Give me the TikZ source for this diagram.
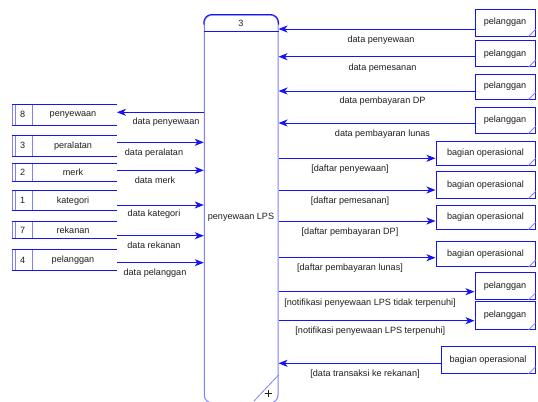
\documentclass[tikz,border=0pt]{standalone}
\usepackage{fontspec}
\setmainfont{Liberation Sans}
\usetikzlibrary{arrows.meta}
\definecolor{ln}{RGB}{20,20,245}
\definecolor{lt}{RGB}{128,128,255}
\definecolor{tx}{RGB}{30,30,30}
\tikzset{
  every node/.style={font=\fontsize{9.1bp}{11bp}\selectfont, text=tx},
  flow/.style={draw=ln, line width=1bp, -{Stealth[length=9bp,width=7bp,inset=2.5bp]}},
  proc/.style={draw=lt, line width=1bp, rounded corners=8bp, inner sep=0pt},
  entity/.style={draw=ln, line width=1bp, fill=white, inner sep=0pt},
  storebox/.style={inner sep=0pt},
  lbl/.style={inner sep=0pt}
}
\begin{document}
\begin{tikzpicture}[x=1bp, y=-1bp]
\useasboundingbox[fill=white] (0,0) rectangle (538,401);

% process
\node[proc, minimum width=73.7bp, minimum height=388bp] (p) at (241.15,209) {};
\draw[ln, line width=1bp, rounded corners=8bp] ([yshift=-10bp]p.north west) -- (p.north west) -- (p.north east) -- ([yshift=-10bp]p.north east);
\draw[ln, line width=1bp] (p.west |- 0,31.5) coordinate (hl) -- (p.east |- 0,31.5) coordinate (hr);
\node (pid) at (241,23) {3};
\node (pname) at (241,217.7) {penyewaan LPS};
\coordinate (dg1) at (p.east |- 0,375);
\coordinate (dg2) at (254,401);
\draw[lt, line width=0.8bp] (dg1) -- (dg2);
\coordinate (plus) at (268,393);
\draw[tx, line width=0.6bp] ([xshift=-3.5bp]plus) -- ([xshift=3.5bp]plus) ([yshift=-3.5bp]plus) -- ([yshift=3.5bp]plus);

% data stores
\foreach \id/\txt/\t/\b in {8/penyewaan/104.3/125, 3/peralatan/135.7/156, 2/merk/163.3/181.7, 1/kategori/190.7/210.7, 7/rekanan/221.7/238.3, 4/pelanggan/250/270}{
  \node[storebox, minimum width=104.4bp, minimum height={(\b-\t)*1bp}] (s\id) at (64.5,{(\t+\b)/2}) {};
  \draw[lt, line width=1bp] (s\id.north west) -- (s\id.south west)
     ([xshift=3.4bp]s\id.north west) -- ([xshift=3.4bp]s\id.south west)
     ([xshift=20bp]s\id.north west) -- ([xshift=20bp]s\id.south west);
  \draw[ln, line width=1bp] (s\id.north west) -- (s\id.north east) (s\id.south west) -- (s\id.south east);
  \node (n\id) at (22.6,{(\t+\b)/2}) {\id};
  \node (t\id) at (73,{(\t+\b)/2}) {\txt};
}

% left flows
\draw[flow] (p.west |- 0,112.3) -- (s8.east |- 0,112.3);
\draw[flow] (s3.east |- 0,142.3) -- (p.west |- 0,142.3);
\draw[flow] (s2.east |- 0,170.3) -- (p.west |- 0,170.3);
\draw[flow] (s1.east |- 0,205) -- (p.west |- 0,205);
\draw[flow] (s7.east |- 0,235.7) -- (p.west |- 0,235.7);
\draw[flow] (s4.east |- 0,262.7) -- (p.west |- 0,262.7);
\node[lbl] (l8) at (166,122.3) {data penyewaan};
\node[lbl] (l3) at (154,153.3) {data peralatan};
\node[lbl] (l2) at (155,180.7) {data merk};
\node[lbl] (l1) at (154,214.3) {data kategori};
\node[lbl] (l7) at (154,245) {data rekanan};
\node[lbl] (l4) at (155,273.3) {data pelanggan};

% external entities
\foreach \id/\cx/\w/\t/\b/\txt in {e1/505/60/9/36/pelanggan, e2/505/60/40.7/66.7/pelanggan, e3/505/60/74/99/pelanggan, e4/505/60/107/133/pelanggan, b1/485.5/99/141/165/bagian operasional, b2/485.5/99/171.7/198/bagian operasional, b3/485.5/99/205/229/bagian operasional, b4/485.5/99/241/266.7/bagian operasional, e5/505/60/272.7/299.3/pelanggan, e6/505/60/301.7/329.3/pelanggan, b5/488/94/346.7/373.3/bagian operasional}{
  \node[entity, minimum width={\w*1bp}, minimum height={(\b-\t)*1bp}] (\id) at (\cx,{(\t+\b)/2}) {\txt};
  \draw[lt, line width=0.8bp] ([yshift=7bp]\id.south east) -- ([xshift=-7bp]\id.south east);
}

% right flows
\draw[flow] (e1.west |- 0,29) -- (p.east |- 0,29);
\draw[flow] (e2.west |- 0,56.7) -- (p.east |- 0,56.7);
\draw[flow] (e3.west |- 0,91) -- (p.east |- 0,91);
\draw[flow] (e4.west |- 0,123) -- (p.east |- 0,123);
\draw[flow] (p.east |- 0,158.3) -- (b1.west |- 0,158.3);
\draw[flow] (p.east |- 0,190) -- (b2.west |- 0,190);
\draw[flow] (p.east |- 0,221) -- (b3.west |- 0,221);
\draw[flow] (p.east |- 0,257.7) -- (b4.west |- 0,257.7);
\draw[flow] (p.east |- 0,291.7) -- (e5.west |- 0,291.7);
\draw[flow] (p.east |- 0,320.7) -- (e6.west |- 0,320.7);
\draw[flow] (b5.west |- 0,363.3) -- (p.east |- 0,363.3);

\node[lbl] (r1) at (381,40) {data penyewaan};
\node[lbl] (r2) at (382.5,67.7) {data pemesanan};
\node[lbl] (r3) at (382.5,101) {data pembayaran DP};
\node[lbl] (r4) at (382.5,134) {data pembayaran lunas};
\node[lbl] (r5) at (350,169.3) {[daftar penyewaan]};
\node[lbl] (r6) at (350,200.7) {[daftar pemesanan]};
\node[lbl] (r7) at (350,231.7) {[daftar pembayaran DP]};
\node[lbl] (r8) at (350,268.3) {[daftar pembayaran lunas]};
\node[lbl] (r9) at (370,302.7) {[notifikasi penyewaan LPS tidak terpenuhi]};
\node[lbl] (r10) at (370.3,330.7) {[notifikasi penyewaan LPS terpenuhi]};
\node[lbl] (r11) at (365,374.3) {[data transaksi ke rekanan]};
\end{tikzpicture}
\end{document}
